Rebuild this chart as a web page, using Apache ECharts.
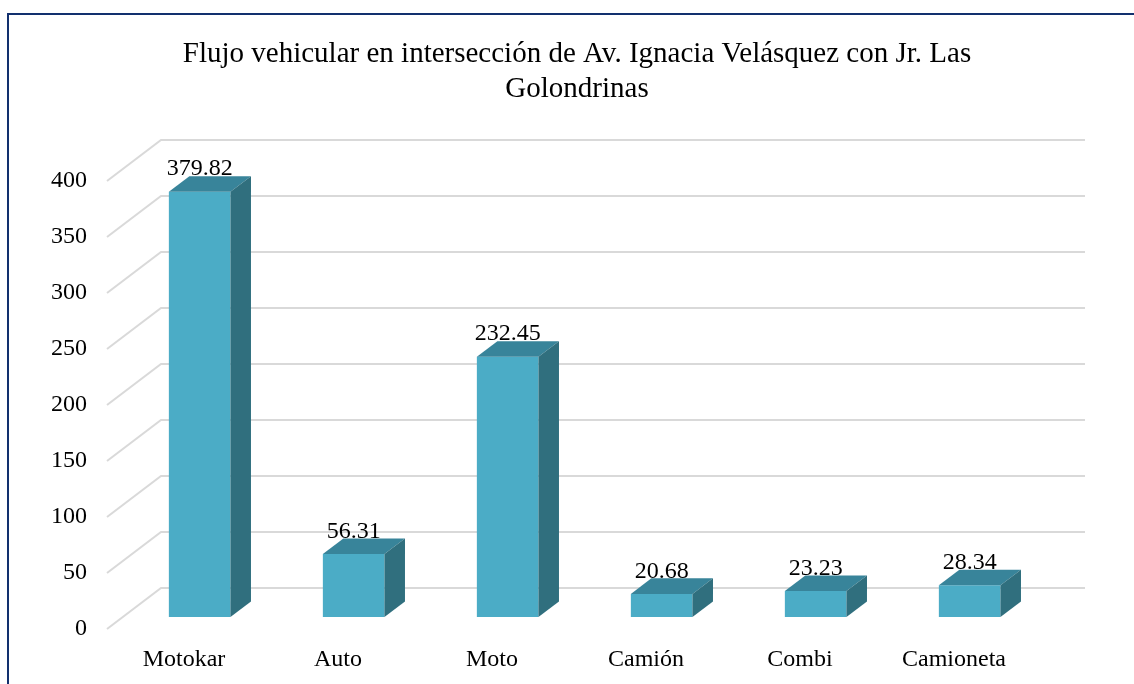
<!DOCTYPE html>
<html><head><meta charset="utf-8">
<script src="https://cdn.jsdelivr.net/npm/echarts@6/dist/echarts.min.js"></script>
<style>html,body{margin:0;padding:0;background:#fff}#c{width:1134px;height:684px}</style>
</head><body><div id="c"></div>
<script>
const categories = ['Motokar', 'Auto', 'Moto', 'Camión', 'Combi', 'Camioneta'];
const values = [379.82, 56.31, 232.45, 20.68, 23.23, 28.34];
const yTicks = [0, 50, 100, 150, 200, 250, 300, 350, 400];
const titleText = 'Flujo vehicular en intersección de Av. Ignacia Velásquez con Jr. Las\nGolondrinas';

const DX = 54, DY = -41;              // depth of the 3D wall
const FRONT_F = 0.29, BACK_F = 0.67;  // bar depth position
const BAR_W = 0.40;                   // bar width as share of band
const FONT = '"Liberation Serif", "Times New Roman", serif';

const chart = echarts.init(document.getElementById('c'), null, { renderer: 'canvas' });

function renderGrid(params, api) {
  const cs = params.coordSys;
  const y = api.coord([0, api.value(1)])[1];
  return {
    type: 'polyline',
    shape: { points: [[cs.x, y], [cs.x + DX, y + DY], [cs.x + cs.width + DX, y + DY]] },
    style: { stroke: '#d9d9d9', lineWidth: 2, fill: null }
  };
}

function renderBar(params, api) {
  const i = api.value(0), v = api.value(1);
  const top = api.coord([i, v]), base = api.coord([i, 0]);
  const bw = api.size([1, 0])[0] * BAR_W;
  const fx = FRONT_F * DX, fy = FRONT_F * DY;
  const dx = (BACK_F - FRONT_F) * DX, dy = (BACK_F - FRONT_F) * DY;
  const x0 = top[0] - bw / 2 + fx, x1 = x0 + bw;
  const yT = top[1] + fy, yB = base[1] + fy;
  return {
    type: 'group',
    children: [
      { type: 'polygon', shape: { points: [[x0, yB], [x1, yB], [x1, yT], [x0, yT]] }, style: { fill: '#4BACC6' } },
      { type: 'polygon', shape: { points: [[x0, yT], [x1, yT], [x1 + dx, yT + dy], [x0 + dx, yT + dy]] }, style: { fill: '#38849A' } },
      { type: 'polygon', shape: { points: [[x1, yB], [x1 + dx, yB + dy], [x1 + dx, yT + dy], [x1, yT]] }, style: { fill: '#306F7E' } },
      { type: 'text', x: top[0] + fx, y: yT + dy + 5,
        style: { text: v.toFixed(2), fontSize: 24, fontFamily: FONT, fill: '#000', align: 'center', verticalAlign: 'bottom' } }
    ]
  };
}

chart.setOption({
  animation: false,
  backgroundColor: '#fff',
  title: {
    text: titleText,
    left: 577,
    textAlign: 'center',
    top: 37,
    padding: 0,
    textStyle: { fontFamily: FONT, fontSize: 29, fontWeight: 'normal', color: '#000', lineHeight: 35 }
  },
  graphic: [{
    type: 'rect', x: 8, y: 14, z: -10,
    shape: { x: 0, y: 0, width: 1200, height: 800 },
    style: { fill: null, stroke: '#12306e', lineWidth: 2 }
  }],
  grid: { left: 107, top: 181, width: 924, height: 448 },
  xAxis: {
    type: 'category',
    data: categories,
    axisLine: { show: false },
    axisTick: { show: false },
    splitLine: { show: false },
    axisLabel: { fontFamily: FONT, fontSize: 24, color: '#000', margin: 19, interval: 0 }
  },
  yAxis: {
    type: 'value',
    min: 0, max: 400, interval: 50,
    axisLine: { show: false },
    axisTick: { show: false },
    splitLine: { show: false },
    axisLabel: { fontFamily: FONT, fontSize: 24, color: '#000', margin: 20 }
  },
  series: [
    { type: 'custom', name: 'grid', silent: true, z: 1, renderItem: renderGrid,
      data: yTicks.map(v => [0, v]), encode: { x: 0, y: 1 } },
    { type: 'custom', name: 'Flujo', z: 2, renderItem: renderBar,
      data: values.map((v, i) => [i, v]), encode: { x: 0, y: 1 } }
  ]
});
</script></body></html>
